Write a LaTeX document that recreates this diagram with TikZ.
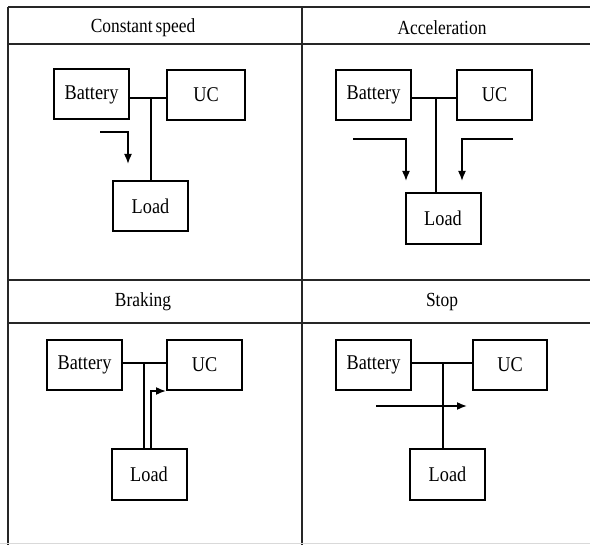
\documentclass[tikz,border=0pt]{standalone}
\usepackage{fontspec}
\setmainfont{Liberation Serif}[FakeStretch=0.87]
\usetikzlibrary{arrows.meta}
\begin{document}
\begin{tikzpicture}[x=1pt,y=-1pt,
  grid/.style={line width=1.9pt,black!85},
  blk/.style={draw,line width=2pt,minimum width=75pt,minimum height=50pt,inner sep=0pt,font=\fontsize{21}{23}\selectfont},
  bus/.style={line width=1.8pt},
  flow/.style={line width=1.6pt,-{Latex[length=10pt,width=8pt]}},
  hdr/.style={font=\fontsize{20}{22}\selectfont,inner sep=0pt}]
\useasboundingbox (0,0) rectangle (590,545);
\fill[white] (0,0) rectangle (590,545);
% table grid
\coordinate (tl) at (8,7);
\coordinate (tr) at (590,7);
\coordinate (h1l) at (8,44);
\coordinate (h1r) at (590,44);
\coordinate (ml) at (8,280);
\coordinate (mr) at (590,280);
\coordinate (h2l) at (8,323);
\coordinate (h2r) at (590,323);
\coordinate (bl) at (8,545);
\coordinate (mt) at (302,7);
\coordinate (mb) at (302,545);
\draw[grid] (tl) -- (tr);
\draw[grid] (h1l) -- (h1r);
\draw[grid,line width=1.5pt] (ml) -- (mr);
\draw[grid,line width=2.3pt] (h2l) -- (h2r);
\draw[grid] (tl) -- (bl);
\draw[grid] (mt) -- (mb);
\draw[black!15,line width=0.8pt] (0,543.5) -- (590,543.5);
% headers
\node[hdr] (t1) at (143,28) {Constant\hspace{3pt}speed};
\node[hdr] (t2) at (442,28) {Acceleration};
\node[hdr] (t3) at (143,302) {Braking};
\node[hdr] (t4) at (442,302) {Stop};
% cell 1: constant speed
\node[blk] (b1) at (91.5,94.5) {Battery};
\node[blk,minimum width=78pt] (u1) at (206,95) {UC};
\node[blk] (l1) at (150.5,206) {Load};
\coordinate (j1) at (151,98);
\draw[bus] (b1.east |- j1) -- (u1.west |- j1);
\draw[bus] (j1) -- (j1 |- l1.north);
\coordinate (a1s) at (100,132);
\coordinate (a1e) at (128,164);
\draw[flow] (a1s) -| (a1e);
% cell 2: acceleration
\node[blk] (b2) at (373.5,95) {Battery};
\node[blk] (u2) at (494.5,95) {UC};
\node[blk,minimum height=51pt] (l2) at (443,218.5) {Load};
\coordinate (j2) at (436,98);
\draw[bus] (b2.east |- j2) -- (u2.west |- j2);
\draw[bus] (j2) -- (j2 |- l2.north);
\coordinate (a2s) at (353,139);
\coordinate (a2e) at (406,181);
\coordinate (a3s) at (513,139);
\coordinate (a3e) at (462,181);
\draw[flow] (a2s) -| (a2e);
\draw[flow] (a3s) -| (a3e);
% cell 3: braking
\node[blk] (b3) at (84.5,365) {Battery};
\node[blk] (u3) at (204.5,365) {UC};
\node[blk,minimum height=51pt] (l3) at (149,474.5) {Load};
\coordinate (j3) at (144,363);
\draw[bus] (b3.east |- j3) -- (u3.west |- j3);
\draw[bus] (j3) -- (j3 |- l3.north);
\coordinate (c3) at (151,391);
\draw[flow] (c3 |- l3.north) |- (u3.south west);
% cell 4: stop
\node[blk] (b4) at (373.5,365) {Battery};
\node[blk,minimum width=74pt] (u4) at (510,365) {UC};
\node[blk,minimum height=51pt] (l4) at (447.5,474.5) {Load};
\coordinate (j4) at (443,363);
\draw[bus] (b4.east |- j4) -- (u4.west |- j4);
\draw[bus] (j4) -- (j4 |- l4.north);
\coordinate (a4s) at (376,406);
\coordinate (a4e) at (467,406);
\draw[flow] (a4s) -- (a4e);
\end{tikzpicture}
\end{document}
